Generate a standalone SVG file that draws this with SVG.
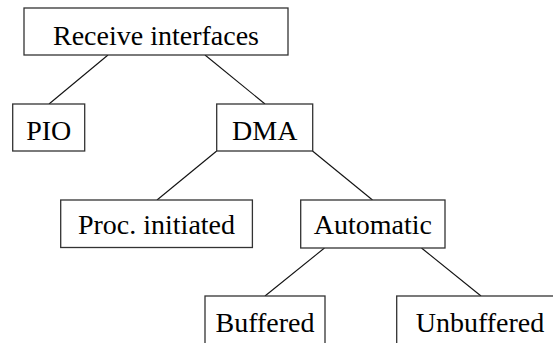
<svg xmlns="http://www.w3.org/2000/svg" width="553" height="343" viewBox="0 0 553 343">
<style>
.box{fill:#fff;stroke:#333;stroke-width:1.3}
.lbl{font-family:"Liberation Serif","Times New Roman",serif;font-size:28px;fill:#000;text-anchor:middle}
.edge{stroke:#111;stroke-width:1.1;fill:none}
</style>
<rect width="553" height="343" fill="#fff"/>
<g id="connectors">
<line class="edge" x1="108" y1="55" x2="49" y2="104"/>
<line class="edge" x1="205" y1="55" x2="265" y2="104"/>
<line class="edge" x1="216.7" y1="151" x2="157" y2="200"/>
<line class="edge" x1="312.5" y1="151" x2="372.5" y2="200"/>
<line class="edge" x1="324.5" y1="248" x2="265" y2="296"/>
<line class="edge" x1="421.5" y1="248" x2="481" y2="296"/>
</g>
<g id="receive"><rect class="box" x="24" y="8" width="264" height="47"/><text class="lbl" x="156" y="44.5">Receive interfaces</text></g>
<g id="pio"><rect class="box" x="12.7" y="104" width="72" height="47"/><text class="lbl" x="48.7" y="139.5">PIO</text></g>
<g id="dma"><rect class="box" x="216.7" y="104" width="96" height="47"/><text class="lbl" x="264.7" y="139.5">DMA</text></g>
<g id="proc"><rect class="box" x="60.7" y="200" width="191.7" height="47.5"/><text class="lbl" x="156.5" y="234.3">Proc. initiated</text></g>
<g id="automatic"><rect class="box" x="300.7" y="200" width="144.3" height="48"/><text class="lbl" x="372.8" y="234.3">Automatic</text></g>
<g id="buffered"><rect class="box" x="205" y="296" width="120" height="60"/><text class="lbl" x="265" y="331.5">Buffered</text></g>
<g id="unbuffered"><rect class="box" x="396.7" y="296" width="166" height="60"/><text class="lbl" x="480" y="331.5">Unbuffered</text></g>
</svg>
